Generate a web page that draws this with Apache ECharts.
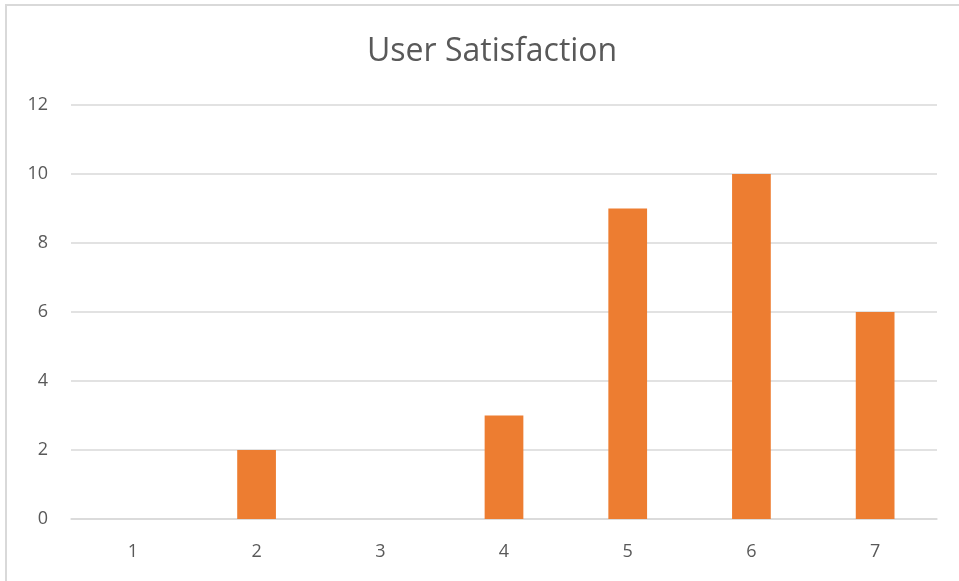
<!DOCTYPE html>
<html lang="en">
<head>
  <meta charset="UTF-8">
  <title>User Satisfaction</title>
  <script src="https://cdn.jsdelivr.net/npm/echarts@6/dist/echarts.min.js"></script>
  <style>
    html, body { margin: 0; padding: 0; background: #fff; }
    #main { width: 959px; height: 581px; }
  </style>
</head>
<body>
<div id="main"></div>
<script>
  const categories = ['1', '2', '3', '4', '5', '6', '7'];
  const counts = [0, 2, 0, 3, 9, 10, 6];
  const yTicks = { min: 0, max: 12, interval: 2 };

  const chart = echarts.init(document.getElementById('main'));
  const textColor = '#595959';
  const font = 'Open Sans';

  chart.setOption({
    animation: false,
    graphic: [{
      // chart-area frame, runs off the right/bottom edge like the original
      type: 'rect',
      shape: { x: 6, y: 5, width: 1200, height: 800 },
      style: { fill: 'none', stroke: '#d9d9d9', lineWidth: 2 },
      silent: true
    }],
    title: {
      text: 'User Satisfaction',
      left: 362,
      top: 31,
      textStyle: { color: textColor, fontFamily: font, fontWeight: 'normal', fontSize: 32 }
    },
    grid: { left: 71, right: 22, top: 105, bottom: 62 },
    xAxis: {
      type: 'category',
      data: categories,
      axisLine: { show: true, lineStyle: { color: '#d9d9d9', width: 1.5 } },
      axisTick: { show: false },
      axisLabel: { color: textColor, fontFamily: font, fontSize: 18, margin: 24 }
    },
    yAxis: {
      type: 'value',
      min: yTicks.min,
      max: yTicks.max,
      interval: yTicks.interval,
      axisLine: { show: false },
      axisTick: { show: false },
      axisLabel: { color: textColor, fontFamily: font, fontSize: 18, margin: 23 },
      splitLine: { lineStyle: { color: '#d9d9d9', width: 1.5 } }
    },
    series: [{
      type: 'bar',
      data: counts,
      barWidth: '31.3%',
      itemStyle: { color: '#ED7D31' }
    }]
  });
</script>
</body>
</html>
